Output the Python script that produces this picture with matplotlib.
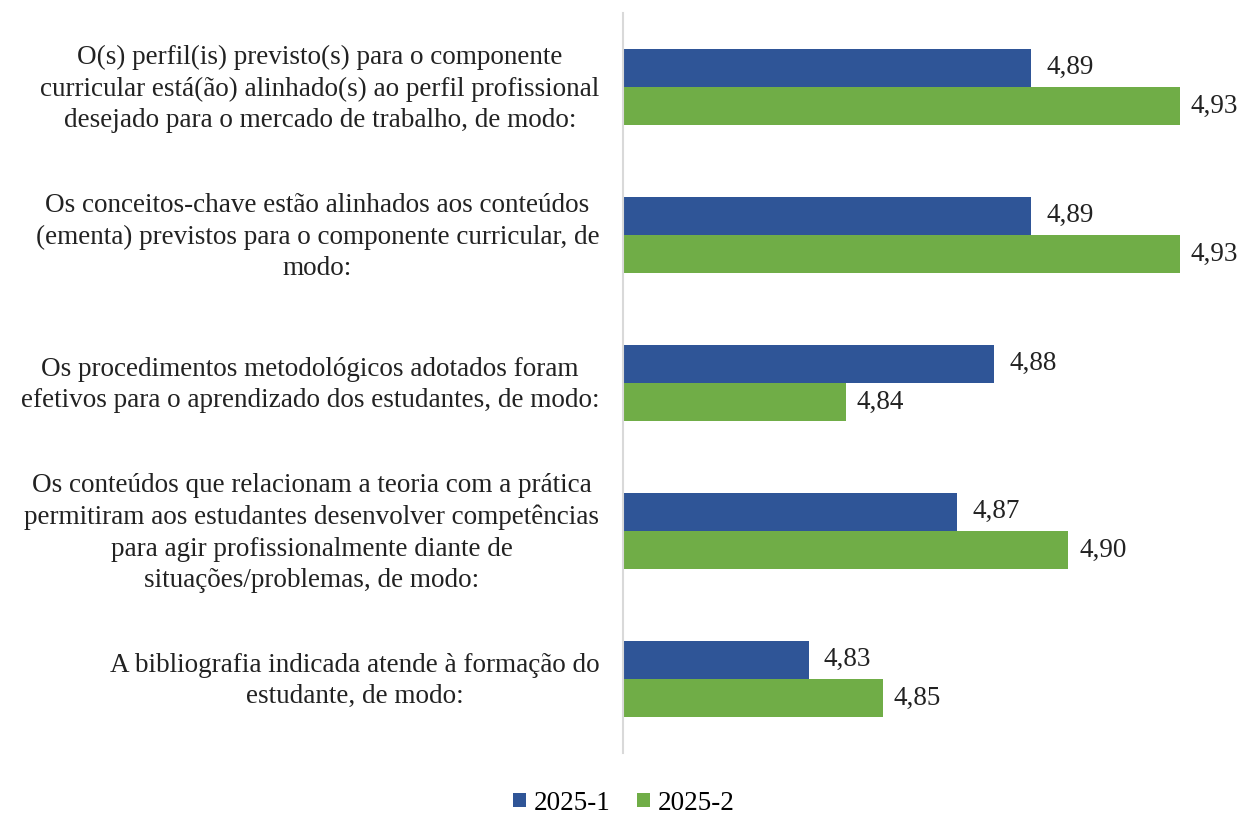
import matplotlib.pyplot as plt
import numpy as np

plt.rcParams['font.family'] = ['Liberation Serif', 'DejaVu Serif']

categories = [
    "O(s) perfil(is) previsto(s) para o componente\ncurricular está(ão) alinhado(s) ao perfil profissional\ndesejado para o mercado de trabalho, de modo:",
    "Os conceitos-chave estão alinhados aos conteúdos\n(ementa) previstos para o componente curricular, de\nmodo:",
    "Os procedimentos metodológicos adotados foram\nefetivos para o aprendizado dos estudantes, de modo:",
    "Os conteúdos que relacionam a teoria com a prática\npermitiram aos estudantes desenvolver competências\npara agir profissionalmente diante de\nsituações/problemas, de modo:",
    "A bibliografia indicada atende à formação do\nestudante, de modo:",
]
serie_2025_1 = [4.89, 4.89, 4.88, 4.87, 4.83]
serie_2025_2 = [4.93, 4.93, 4.84, 4.90, 4.85]
series_names = ["2025-1", "2025-2"]

blue = "#2F5597"
green = "#70AD47"
fs = 19.5

fig = plt.figure(figsize=(12.4, 8.16), dpi=100)
xmin, xmax = 4.78, 4.943
ax = fig.add_axes([623 / 1240, 1 - 753 / 816, (xmax - xmin) * 3710 / 1240, 740 / 816])

y = np.arange(len(categories))
h = 0.26
b1 = ax.barh(y - h / 2, np.array(serie_2025_1) - xmin, height=h, left=xmin,
             color=blue, label=series_names[0])
b2 = ax.barh(y + h / 2, np.array(serie_2025_2) - xmin, height=h, left=xmin,
             color=green, label=series_names[1])

for bars, vals, off in ((b1, serie_2025_1, 11), (b2, serie_2025_2, 8)):
    for bar, v in zip(bars, vals):
        ax.annotate(f"{v:.2f}".replace(".", ","),
                    (bar.get_x() + bar.get_width(), bar.get_y() + bar.get_height() / 2),
                    xytext=(off, 0), textcoords="offset points",
                    ha="left", va="center", fontsize=fs, color="#222222")

# category labels, centred lines, block right-aligned next to the axis
for yi, cat in zip(y, categories):
    ax.annotate(cat, (0, yi), xycoords=ax.get_yaxis_transform(),
                xytext=(-17, -1.5), textcoords="offset points",
                ha="right", va="center", multialignment="center",
                fontsize=fs, linespacing=1.34, color="#222222")

ax.set_xlim(xmin, xmax)
ax.set_ylim(len(categories) - 0.5, -0.5)
ax.set_yticks([])
ax.set_xticks([])
for s in ("top", "right", "bottom"):
    ax.spines[s].set_visible(False)
ax.spines["left"].set_color("#D9D9D9")
ax.spines["left"].set_linewidth(1.5)

fig.legend(handles=[b1, b2], labels=series_names, loc="center",
           bbox_to_anchor=(624 / 1240, 1 - 803 / 816), ncol=2, frameon=False,
           fontsize=fs, handlelength=0.45, handleheight=0.45, handletextpad=0.3,
           columnspacing=1.0)

fig.savefig("out.png", dpi=100)
